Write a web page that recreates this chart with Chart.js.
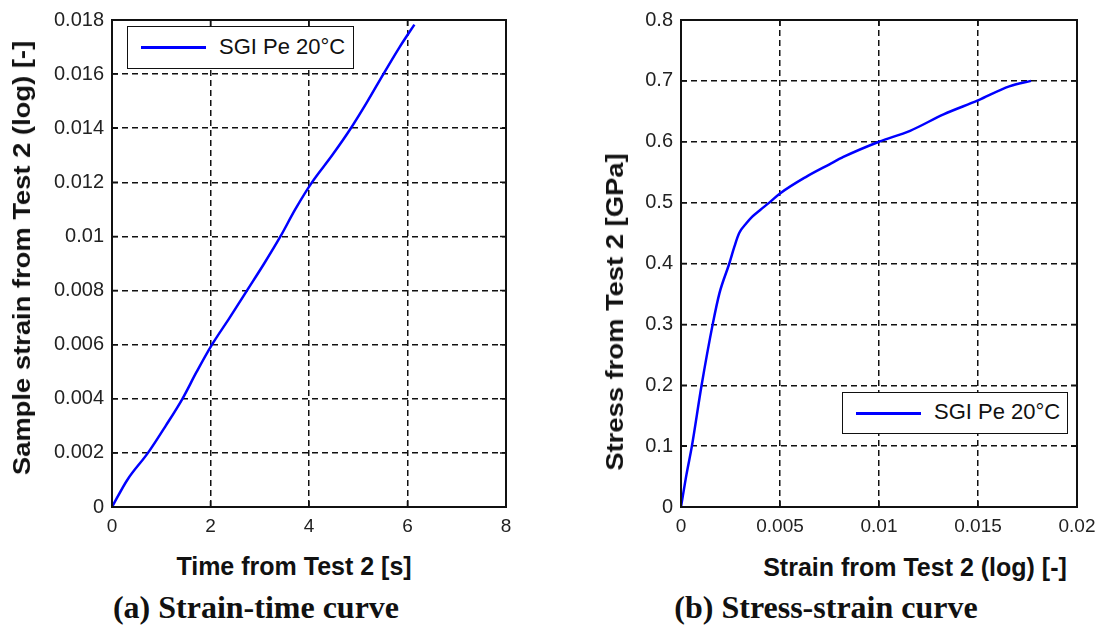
<!DOCTYPE html>
<html>
<head>
<meta charset="utf-8">
<script src="https://cdn.jsdelivr.net/npm/chart.js@4/dist/chart.umd.min.js"></script>
<style>
  html, body { margin: 0; padding: 0; background: #fff; }
  body { width: 1104px; height: 629px; position: relative; overflow: hidden; font-family: 'Liberation Sans', Arial, sans-serif; color: #111; }
  .wrap { position: absolute; top: 0; }
  .axis-title { position: absolute; font-weight: bold; font-size: 25px; white-space: nowrap; transform: translate(-50%, -50%); }
  .axis-title.rot { font-size: 24px; transform: translate(-50%, -50%) rotate(-90deg) scaleX(1.14); }
  .caption { position: absolute; font-family: 'Liberation Serif', 'Times New Roman', serif; font-weight: bold; font-size: 32px; white-space: nowrap; transform: translate(-50%, -50%); }
  .legend { position: absolute; box-sizing: border-box; border: 1.5px solid #111; background: #fff; }
  .legend .swatch { position: absolute; left: 13px; top: 50%; width: 65px; height: 3px; margin-top: -1.5px; }
  .legend .label { position: absolute; left: 91px; top: 50%; transform: translateY(-52%); font-size: 22px; white-space: nowrap; }
</style>
</head>
<body>
<div class="wrap" style="left:0; width:545px; height:540px;"><canvas id="strainTime"></canvas></div>
<div class="wrap" style="left:569px; width:535px; height:540px;"><canvas id="stressStrain"></canvas></div>

<div class="legend" id="legendA" style="left:127px; top:26px; width:227px; height:43px;"></div>
<div class="legend" id="legendB" style="left:842px; top:392px; width:226px; height:42px;"></div>

<div class="axis-title rot" style="left:22px; top:258px;">Sample strain from Test 2 (log) [-]</div>
<div class="axis-title" style="left:294px; top:566px;">Time from Test 2 [s]</div>
<div class="axis-title rot" style="left:615px; top:312px;">Stress from Test 2 [GPa]</div>
<div class="axis-title" style="left:915px; top:567px;">Strain from Test 2 (log) [-]</div>

<div class="caption" style="left:256px; top:607px;">(a) Strain-time curve</div>
<div class="caption" style="left:826px; top:607px;">(b) Stress-strain curve</div>

<script>
// (a) strain vs time
const timeS = [0, 0.31, 0.73, 1.09, 1.43, 1.72, 2.03, 2.39, 2.74, 3.09, 3.42, 3.72, 4.06, 4.47, 4.85, 5.19, 5.51, 5.84, 6.14];
const sampleStrain = [0, 0.001, 0.002, 0.003, 0.004, 0.005, 0.006, 0.007, 0.008, 0.009, 0.010, 0.011, 0.012, 0.013, 0.014, 0.015, 0.016, 0.017, 0.01783];
const timeTicks = [0, 2, 4, 6, 8];
const sampleStrainTicks = [0, 0.002, 0.004, 0.006, 0.008, 0.01, 0.012, 0.014, 0.016, 0.018];

// (b) stress vs strain
const strainB = [0, 0.00028, 0.00055, 0.00104, 0.0016, 0.00194, 0.00244, 0.0027, 0.00294, 0.0033, 0.0036, 0.004, 0.00446, 0.005, 0.0063, 0.0075, 0.0082, 0.01, 0.01157, 0.01326, 0.015, 0.01658, 0.01768];
const stressB = [0, 0.054, 0.1, 0.2, 0.3, 0.351, 0.4, 0.428, 0.45, 0.466, 0.477, 0.488, 0.5, 0.515, 0.542, 0.563, 0.575, 0.6, 0.618, 0.645, 0.668, 0.691, 0.7];
const strainTicks = [0, 0.005, 0.01, 0.015, 0.02];
const stressTicks = [0, 0.1, 0.2, 0.3, 0.4, 0.5, 0.6, 0.7, 0.8];

const seriesLabel = 'SGI Pe 20\u00B0C';
const lineBlue = '#0000ff';

Chart.defaults.font.family = "'Liberation Sans', Arial, sans-serif";
Chart.defaults.color = '#222';

const fmt = v => String(Number(v.toFixed(3)));

// solid frame + inward ticks, matlab style
const boxFrame = {
    id: 'boxFrame',
    afterDraw(chart) {
        const { ctx, chartArea: a, scales } = chart;
        ctx.save();
        ctx.strokeStyle = '#111';
        ctx.lineWidth = 1.5;
        scales.x.ticks.forEach(t => {
            const px = scales.x.getPixelForValue(t.value);
            ctx.beginPath();
            ctx.moveTo(px, a.bottom); ctx.lineTo(px, a.bottom - 6);
            ctx.moveTo(px, a.top); ctx.lineTo(px, a.top + 6);
            ctx.stroke();
        });
        scales.y.ticks.forEach(t => {
            const py = scales.y.getPixelForValue(t.value);
            ctx.beginPath();
            ctx.moveTo(a.left, py); ctx.lineTo(a.left + 6, py);
            ctx.moveTo(a.right, py); ctx.lineTo(a.right - 6, py);
            ctx.stroke();
        });
        ctx.lineWidth = 2;
        ctx.strokeRect(a.left, a.top, a.right - a.left, a.bottom - a.top);
        ctx.restore();
    }
};

function axis(ticks, fitSize, isY) {
    return {
        type: 'linear',
        min: ticks[0],
        max: ticks[ticks.length - 1],
        afterBuildTicks: s => { s.ticks = ticks.map(v => ({ value: v })); },
        afterFit: s => { if (isY) s.width = fitSize; else s.height = fitSize; },
        grid: { color: '#111', lineWidth: 1.5, drawTicks: false },
        border: { display: false, dash: [6, 4] },
        ticks: { padding: isY ? 8 : 8, color: '#222', font: { size: isY ? 20 : 19 }, callback: fmt }
    };
}

function makeChart(id, xs, ys, xTicks, yTicks, yWidth, padRight) {
    return new Chart(document.getElementById(id), {
        type: 'line',
        data: {
            datasets: [{
                label: seriesLabel,
                data: xs.map((x, i) => ({ x, y: ys[i] })),
                borderColor: lineBlue,
                borderWidth: 2.5,
                pointRadius: 0,
                cubicInterpolationMode: 'monotone'
            }]
        },
        options: {
            responsive: true,
            maintainAspectRatio: false,
            animation: false,
            layout: { padding: { top: 15, right: padRight, left: 0, bottom: 0 } },
            scales: {
                x: axis(xTicks, 33, false),
                y: axis(yTicks, yWidth, true)
            },
            plugins: { legend: { display: false }, tooltip: { enabled: false } }
        },
        plugins: [boxFrame]
    });
}

const chartA = makeChart('strainTime', timeS, sampleStrain, timeTicks, sampleStrainTicks, 112, 39);
const chartB = makeChart('stressStrain', strainB, stressB, strainTicks, stressTicks, 112, 27);

// legend boxes from dataset label/colour
function fillLegend(el, chart) {
    const ds = chart.data.datasets[0];
    el.innerHTML = '<span class="swatch" style="background:' + ds.borderColor + '"></span>' +
        '<span class="label">' + ds.label + '</span>';
}
fillLegend(document.getElementById('legendA'), chartA);
fillLegend(document.getElementById('legendB'), chartB);
</script>
</body>
</html>
